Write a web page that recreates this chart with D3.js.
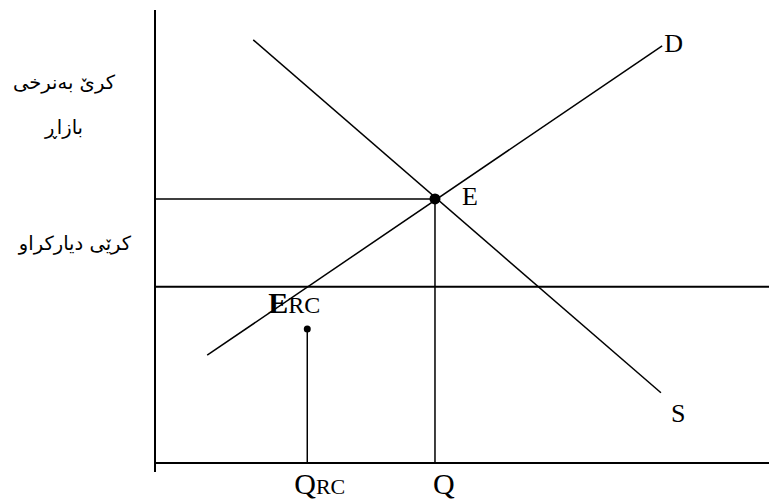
<!DOCTYPE html>
<html>
<head>
<meta charset="utf-8">
<script src="https://cdn.jsdelivr.net/npm/d3@7"></script>
<style>
  body { margin: 0; background: #fff; }
  svg { display: block; }
  .lbl { font-family: "Liberation Serif", "Times New Roman", serif; fill: #000; }
  .ku { font-family: "DejaVu Sans", sans-serif; font-size: 19.5px; fill: #000; }
</style>
</head>
<body>
<svg width="769" height="502"></svg>
<script>
// curves, given as [quantity, price] end points (axis units 0-100)
const demandLine = [[8.5, 23.8], [82.6, 92.1]];   // labelled D
const supplyLine = [[16.0, 93.4], [82.4, 15.5]];  // labelled S
const equilibrium = [45.6, 58.3];                 // E
const rentCeiling = 38.9;                         // controlled rent
const ercPoint = [24.8, 29.6];                    // point under E_RC
const qRC = 24.8;

const priceLabels = [["کرێ بەنرخی", "بازاڕ"], ["کرێی دیارکراو"]];

const svg = d3.select('svg');

const x = d3.scaleLinear().domain([0, 100]).range([155, 769]);
const y = d3.scaleLinear().domain([0, 100]).range([463, 10]);

const line = d3.line().x(d => x(d[0])).y(d => y(d[1]));

// axes
svg.append('line')
  .attr('x1', x(0)).attr('x2', x(0))
  .attr('y1', y(100)).attr('y2', y(0) + 9)
  .attr('stroke', '#000').attr('stroke-width', 2);
svg.append('line')
  .attr('x1', x(0) - 1).attr('x2', x(100))
  .attr('y1', y(0)).attr('y2', y(0))
  .attr('stroke', '#000').attr('stroke-width', 2);

// market price level + Q drop
svg.append('path')
  .attr('d', line([[0, equilibrium[1]], equilibrium, [equilibrium[0], 0]]))
  .attr('fill', 'none').attr('stroke', '#000').attr('stroke-width', 1.5);

// rent ceiling
svg.append('line')
  .attr('x1', x(0)).attr('x2', x(100))
  .attr('y1', y(rentCeiling)).attr('y2', y(rentCeiling))
  .attr('stroke', '#000').attr('stroke-width', 2);

// Q_RC drop
svg.append('line')
  .attr('x1', x(qRC)).attr('x2', x(qRC))
  .attr('y1', y(ercPoint[1])).attr('y2', y(0))
  .attr('stroke', '#000').attr('stroke-width', 1.5);

svg.selectAll('path.curve')
  .data([demandLine, supplyLine])
  .enter().append('path')
  .attr('class', 'curve')
  .attr('d', line)
  .attr('fill', 'none').attr('stroke', '#000').attr('stroke-width', 1.5);

svg.append('circle')
  .attr('cx', x(equilibrium[0])).attr('cy', y(equilibrium[1]))
  .attr('r', 5.5).attr('fill', '#000');
svg.append('circle')
  .attr('cx', x(ercPoint[0])).attr('cy', y(ercPoint[1]))
  .attr('r', 3.5).attr('fill', '#000');

// letters
svg.append('text').attr('class', 'lbl').attr('font-size', 26)
  .attr('x', x(demandLine[1][0]) + 2).attr('y', y(demandLine[1][1]) + 6).text('D');
svg.append('text').attr('class', 'lbl').attr('font-size', 26)
  .attr('x', x(supplyLine[1][0]) + 10).attr('y', y(supplyLine[1][1]) + 29).text('S');
svg.append('text').attr('class', 'lbl').attr('font-size', 26)
  .attr('x', x(equilibrium[0]) + 27).attr('y', y(equilibrium[1]) + 6).text('E');

svg.append('text').attr('class', 'lbl').attr('font-size', 30)
  .attr('x', x(equilibrium[0]) - 2).attr('y', 494).text('Q');

const qrc = svg.append('text').attr('class', 'lbl').attr('font-size', 30)
  .attr('x', x(qRC) - 13).attr('y', 494);
qrc.append('tspan').text('Q');
qrc.append('tspan').attr('font-size', 22).text('RC');

const erc = svg.append('text').attr('class', 'lbl')
  .attr('x', x(qRC) - 39).attr('y', y(rentCeiling) + 26);
erc.append('tspan').attr('font-size', 30).attr('font-weight', 'bold').text('E');
erc.append('tspan').attr('font-size', 24).text('RC');

// Kurdish price labels
const t1 = svg.append('text').attr('class', 'ku')
  .attr('text-anchor', 'middle').attr('direction', 'rtl');
t1.append('tspan').attr('x', 64).attr('y', 89).text(priceLabels[0][0]);
t1.append('tspan').attr('x', 64).attr('y', 134).text(priceLabels[0][1]);

svg.append('text').attr('class', 'ku')
  .attr('text-anchor', 'middle').attr('direction', 'rtl')
  .attr('x', 75).attr('y', 250).text(priceLabels[1][0]);
</script>
</body>
</html>
